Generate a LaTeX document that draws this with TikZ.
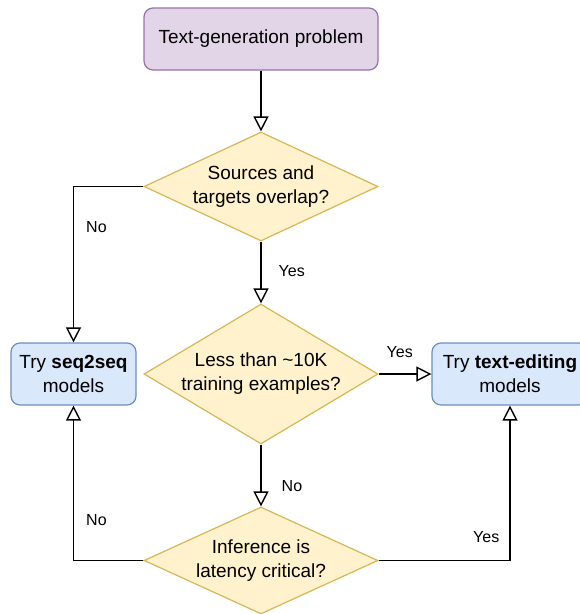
\documentclass[tikz,border=0pt]{standalone}
\usepackage{fontspec}
\setmainfont{Liberation Sans}
\usetikzlibrary{shapes.geometric,arrows.meta,positioning,calc}

\definecolor{probfill}{HTML}{E1D5E7}
\definecolor{probdraw}{HTML}{9673A6}
\definecolor{askfill}{HTML}{FFF2CC}
\definecolor{askdraw}{HTML}{D6B656}
\definecolor{modelfill}{HTML}{DAE8FC}
\definecolor{modeldraw}{HTML}{6C8EBF}

\tikzset{
  problem/.style={draw=probdraw, fill=probfill, rounded corners=9pt, line width=1.2pt,
    minimum width=234pt, minimum height=62pt, font=\fontsize{19}{24}\selectfont},
  ask/.style={diamond, draw=askdraw, fill=askfill, line width=1.2pt, inner sep=0pt,
    minimum width=234pt},
  asktext/.style={align=center, inner sep=0pt, font=\fontsize{19}{24}\selectfont},
  model/.style={draw=modeldraw, fill=modelfill, rounded corners=9pt, line width=1.2pt,
    align=center, minimum height=62pt, font=\fontsize{19}{24}\selectfont},
  flow/.style={line width=1.4pt, -{Triangle[open, length=15pt, width=15pt]}},
  lbl/.style={inner sep=0pt, font=\fontsize{16}{19}\selectfont}
}

\begin{document}
\begin{tikzpicture}[x=1pt, y=-1pt]
    \useasboundingbox (0,0) rectangle (580,614);

    % Start
    \node[problem] (prob) at (261,39) {Text-generation problem};

    % Questions
    \node[ask, minimum height=109pt] (overlap) at (261,186.5) {};
    \node[asktext] (overlaptxt) at (overlap) {Sources and\\targets overlap?};

    \node[ask, minimum height=140pt] (size) at (261,374) {};
    \node[asktext] (sizetxt) at (size) {Less than \textasciitilde10K\\training examples?};

    \node[ask, minimum height=107pt] (latency) at (261,560.5) {};
    \node[asktext] (latencytxt) at (latency) {Inference is\\latency critical?};

    % Outcomes
    \node[model, minimum width=125pt] (seq) at (73.5,374) {Try \textbf{seq2seq}\\models};
    \node[model, minimum width=156pt] (edit) at (510,374) {Try \textbf{text-editing}\\models};

    % Connectors
    \draw[flow] (prob) -- (overlap);
    \draw[flow] (overlap.west) -| node[lbl, pos=0.63, right=12pt] {No} (seq.north);
    \draw[flow] (overlap) -- node[lbl, pos=0.48, right=17pt] {Yes} (size);
    \draw[flow] (size.east) -- node[lbl, pos=0.4, above=16pt] {Yes} (edit.west);
    \draw[flow] (size) -- node[lbl, pos=0.67, right=20pt] {No} (latency);
    \draw[flow] (latency.west) -| node[lbl, pos=0.63, right=12pt] {No} (seq.south);
    \draw[flow] (latency.east) -| node[lbl, pos=0.575, left=10pt] {Yes} (edit.south);
\end{tikzpicture}
\end{document}
